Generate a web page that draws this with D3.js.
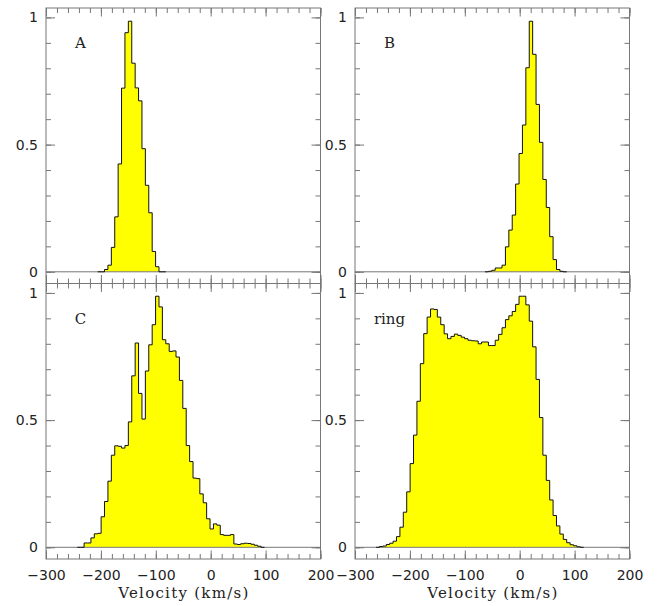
<!DOCTYPE html>
<html>
<head>
<meta charset="utf-8">
<script src="https://cdn.jsdelivr.net/npm/d3@7"></script>
<style>
  body { margin: 0; background: #fff; }
  text { fill: #222; }
</style>
</head>
<body>
<div id="chart"></div>
<script>
// histogram bins are 6.2 km/s wide; each series lists bin heights from its first left edge
const binWidth = 6.2;

const startA = -205.8;
const heightsA = [0, 0, 0.009, 0.026, 0.096, 0.216, 0.424, 0.722, 0.94, 0.985,
    0.82, 0.723, 0.672, 0.484, 0.34, 0.232, 0.08, 0.02, 0, 0];

const startB = -63.2;
const heightsB = [0, 0.002, 0.006, 0.015, 0.015, 0.026, 0.098, 0.164, 0.223, 0.345,
    0.465, 0.577, 0.802, 0.985, 0.855, 0.658, 0.509, 0.363, 0.253, 0.138,
    0.048, 0.009, 0.002, 0];

const startC = -243;
const heightsC = [0, 0, 0.017, 0.017, 0.037, 0.053, 0.055, 0.12, 0.18, 0.26,
    0.362, 0.399, 0.397, 0.39, 0.4, 0.493, 0.674, 0.803, 0.605, 0.504,
    0.693, 0.796, 0.875, 0.987, 0.945, 0.816, 0.8, 0.77, 0.772, 0.748,
    0.656, 0.546, 0.4, 0.337, 0.272, 0.27, 0.21, 0.175, 0.112, 0.072,
    0.092, 0.087, 0.05, 0.047, 0.047, 0.05, 0.013, 0.011, 0.014, 0.016,
    0.015, 0.012, 0.008, 0.004, 0];

const startRing = -261.6;
const heightsRing = [0, 0.003, 0.005, 0.011, 0.016, 0.024, 0.042, 0.079, 0.138, 0.218,
    0.329, 0.441, 0.574, 0.722, 0.84, 0.905, 0.937, 0.935, 0.905, 0.875,
    0.839, 0.82, 0.829, 0.838, 0.833, 0.826, 0.82, 0.814, 0.812, 0.811,
    0.8, 0.807, 0.807, 0.793, 0.793, 0.814, 0.837, 0.863, 0.895, 0.91,
    0.927, 0.955, 0.987, 0.987, 0.953, 0.889, 0.788, 0.66, 0.51, 0.362,
    0.263, 0.186, 0.125, 0.084, 0.052, 0.031, 0.018, 0.01, 0.006, 0.002, 0];

const panelNames = ["A", "B", "C", "ring"];
const xMajorTicks = [-300, -200, -100, 0, 100, 200];
const xMinorTicks = d3.range(-300, 201, 20);
const yMajorTicks = [0, 0.5, 1];
const yMinorTicks = d3.range(0, 1.01, 0.1);
const xTitle = "Velocity (km/s)";

let width = 659, height = 606;
let pw = 274.5, ph = 275.5;
let lineColor = "#777";

let svg = d3.select("#chart")
    .append("svg")
    .attr("width", width)
    .attr("height", height);

let panels = [
    {name: panelNames[0], start: startA, heights: heightsA, left: 46, top: 8, bottomRow: false},
    {name: panelNames[1], start: startB, heights: heightsB, left: 355, top: 8, bottomRow: false},
    {name: panelNames[2], start: startC, heights: heightsC, left: 46, top: 283.5, bottomRow: true},
    {name: panelNames[3], start: startRing, heights: heightsRing, left: 355, top: 283.5, bottomRow: true}
];

let xScale = d3.scaleLinear().domain([-300, 200]).range([0, pw]);
let yScale = d3.scaleLinear().domain([-0.046, 1.037]).range([ph, 0]);

panels.forEach(p => drawPanel(p));

function drawPanel(p) {
    let g = svg.append("g")
        .attr("transform", `translate(${p.left},${p.top})`);

    // bins -> step points (left edge, height), plus closing right edge
    let pts = p.heights.map((h, i) => ({v: p.start + i * binWidth, h: h}));
    let last = pts[pts.length - 1];
    pts.push({v: last.v + binWidth, h: last.h});

    let area = d3.area()
        .curve(d3.curveStepAfter)
        .x(d => xScale(d.v))
        .y0(yScale(0))
        .y1(d => yScale(d.h));

    let line = d3.line()
        .curve(d3.curveStepAfter)
        .x(d => xScale(d.v))
        .y(d => yScale(d.h));

    g.append("path")
        .datum(pts)
        .attr("d", area)
        .attr("fill", "#ffff00");

    // zero line across the panel
    g.append("line")
        .attr("x1", 0).attr("x2", pw)
        .attr("y1", yScale(0)).attr("y2", yScale(0))
        .attr("stroke", lineColor)
        .attr("stroke-width", 1);

    g.append("path")
        .datum(pts)
        .attr("d", line)
        .attr("fill", "none")
        .attr("stroke", "#111")
        .attr("stroke-width", 1);

    // ticks on all four sides, pointing inward
    let addAxis = (axis, transform) => {
        let a = g.append("g")
            .attr("transform", transform)
            .call(axis);
        a.select(".domain").remove();
        a.selectAll("line").attr("stroke", lineColor);
        a.selectAll("text")
            .style("font-family", "'DejaVu Sans', sans-serif")
            .style("font-size", "14px")
            .attr("fill", "#222");
        return a;
    };

    addAxis(d3.axisBottom(xScale).tickValues(xMinorTicks).tickSize(-5).tickFormat(""), `translate(0,${ph})`);
    addAxis(d3.axisTop(xScale).tickValues(xMinorTicks).tickSize(-5).tickFormat(""), "translate(0,0)");
    addAxis(d3.axisTop(xScale).tickValues(xMajorTicks).tickSize(-8.5).tickFormat(""), "translate(0,0)");
    addAxis(d3.axisBottom(xScale).tickValues(xMajorTicks).tickSize(-8.5).tickPadding(11)
        .tickFormat(p.bottomRow ? (d => d3.format("")(d).replace("-", "\u2212")) : ""), `translate(0,${ph})`);

    addAxis(d3.axisLeft(yScale).tickValues(yMinorTicks).tickSize(-5).tickFormat(""), "translate(0,0)");
    addAxis(d3.axisRight(yScale).tickValues(yMinorTicks).tickSize(-5).tickFormat(""), `translate(${pw},0)`);
    addAxis(d3.axisRight(yScale).tickValues(yMajorTicks).tickSize(-9).tickFormat(""), `translate(${pw},0)`);
    addAxis(d3.axisLeft(yScale).tickValues(yMajorTicks).tickSize(-9).tickPadding(8).tickFormat(d3.format("")), "translate(0,0)");

    // frame
    g.append("rect")
        .attr("width", pw)
        .attr("height", ph)
        .attr("fill", "none")
        .attr("stroke", lineColor)
        .attr("stroke-width", 1);

    g.append("text")
        .attr("x", 34.5)
        .attr("y", 40)
        .attr("text-anchor", "middle")
        .style("font-family", "'DejaVu Serif', serif")
        .style("font-size", "15px")
        .text(p.name);

    if (p.bottomRow) {
        g.append("text")
            .attr("x", pw / 2)
            .attr("y", ph + 39)
            .attr("text-anchor", "middle")
            .attr("textLength", 130)
            .attr("lengthAdjust", "spacing")
            .style("font-family", "'DejaVu Serif', serif")
            .style("font-size", "15px")
            .text(xTitle);
    }
}
</script>
</body>
</html>
